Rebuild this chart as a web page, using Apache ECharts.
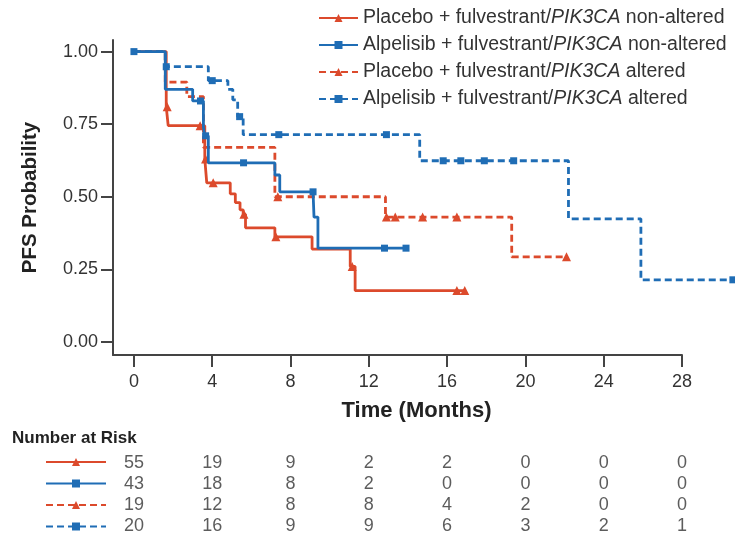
<!DOCTYPE html>
<html><head><meta charset="utf-8">
<script src="https://cdn.jsdelivr.net/npm/echarts@6/dist/echarts.min.js"></script>
<style>html,body{margin:0;padding:0;background:#fff}#c{width:735px;height:536px}</style>
</head><body><div id="c"></div>
<script>
// ---- data ----
const seriesNames = [
  'Placebo + fulvestrant/PIK3CA non-altered',
  'Alpelisib + fulvestrant/PIK3CA non-altered',
  'Placebo + fulvestrant/PIK3CA altered',
  'Alpelisib + fulvestrant/PIK3CA altered'
];
// Kaplan-Meier steps [month, probability]
const placeboNonAltEvents = [[0,1.0],[1.65,0.81],[1.75,0.745],[3.62,0.63],[3.72,0.548],[4.92,0.51],[5.18,0.48],[5.42,0.455],[5.58,0.44],[5.7,0.393],[7.2,0.362],[9.1,0.32],[11.05,0.26],[11.3,0.177]];
const placeboNonAltCensor = [[1.7,0.81],[3.38,0.745],[3.66,0.63],[4.05,0.548],[5.62,0.44],[7.25,0.362],[11.15,0.26],[16.5,0.177],[16.9,0.177]];
const alpNonAltEvents = [[0,1.0],[1.6,0.87],[3.0,0.83],[3.55,0.74],[3.62,0.71],[3.8,0.617],[7.2,0.575],[7.45,0.517],[9.2,0.43],[9.4,0.323]];
const alpNonAltCensor = [[0,1.0],[3.4,0.83],[3.66,0.71],[5.6,0.617],[9.15,0.517],[12.8,0.323],[13.9,0.323]];
const placeboAltEvents = [[0,1.0],[1.6,0.895],[2.7,0.845],[3.55,0.67],[7.2,0.50],[12.85,0.43],[19.3,0.293]];
const placeboAltCensor = [[7.35,0.50],[12.9,0.43],[13.35,0.43],[14.75,0.43],[16.5,0.43],[22.1,0.293]];
const alpAltEvents = [[0,1.0],[1.6,0.948],[3.8,0.9],[4.8,0.87],[5.05,0.834],[5.3,0.776],[5.58,0.714],[14.6,0.624],[22.2,0.424],[25.9,0.214]];
const alpAltCensor = [[1.65,0.948],[4.0,0.9],[5.4,0.776],[7.4,0.714],[12.9,0.714],[15.8,0.624],[16.7,0.624],[17.9,0.624],[19.4,0.624],[30.6,0.214]];

const xTicks = [0,4,8,12,16,20,24,28];
const yTicks = [0,0.25,0.5,0.75,1];
const riskTimes = [0,4,8,12,16,20,24,28];
const riskPlaceboNonAlt = [55,19,9,2,2,0,0,0];
const riskAlpNonAlt = [43,18,8,2,0,0,0,0];
const riskPlaceboAlt = [19,12,8,8,4,2,0,0];
const riskAlpAlt = [20,16,9,9,6,3,2,1];

// ---- build ----
const RED = '#dc4a2c', BLUE = '#1f6db5', AX = '#444';
const FONT = 'Liberation Sans';
function km(events, censors) {
  const pts = events.map(p => ({value: p, symbol: 'none'}))
    .concat(censors.map(p => ({value: p})));
  pts.sort((a, b) => a.value[0] - b.value[0]);
  return pts;
}
const styles = [
  {color: RED, type: 'solid', sym: 'triangle', ev: placeboNonAltEvents, ce: placeboNonAltCensor, risk: riskPlaceboNonAlt},
  {color: BLUE, type: 'solid', sym: 'rect', ev: alpNonAltEvents, ce: alpNonAltCensor, risk: riskAlpNonAlt},
  {color: RED, type: [7,4], sym: 'triangle', ev: placeboAltEvents, ce: placeboAltCensor, risk: riskPlaceboAlt},
  {color: BLUE, type: [7,4], sym: 'rect', ev: alpAltEvents, ce: alpAltCensor, risk: riskAlpAlt}
];
const XMIN = -1.07, XMAX = 28, XMAX_DATA = 30.7;
const GL = 113, GW = 569, GT = 40, GH = 315;
const GW_DATA = GW * (XMAX_DATA - XMIN) / (XMAX - XMIN);
const series = [];
styles.forEach((s, i) => {
  series.push({
    name: seriesNames[i], type: 'line', step: 'end',
    xAxisIndex: 2, yAxisIndex: 2, z: 3 + (i === 1 ? 1 : 0),
    symbol: s.sym, symbolSize: s.sym === 'rect' ? 7 : 9,
    lineStyle: {color: s.color, width: 2.8, type: s.type},
    itemStyle: {color: s.color},
    data: km(s.ev, s.ce), animation: false
  });
});
styles.forEach((s, i) => {
  series.push({
    name: 'risk' + i, type: 'scatter', xAxisIndex: 1, yAxisIndex: 1,
    symbolSize: 0, silent: true, animation: false,
    label: {show: true, position: 'inside', formatter: p => p.value[2],
      fontFamily: FONT, fontSize: 18, color: '#333'},
    data: riskTimes.map((t, k) => [t, i, s.risk[k]])
  });
});

const chart = echarts.init(document.getElementById('c'), null, {renderer: 'canvas'});
chart.setOption({
  animation: false,
  textStyle: {fontFamily: FONT},
  grid: [
    {left: GL, width: GW, top: GT, height: GH},
    {left: GL, width: GW, top: 453, height: 86},
    {left: GL, width: GW_DATA, top: GT, height: GH}
  ],
  legend: [
    {data: seriesNames, orient: 'vertical', left: 313, top: 3, itemWidth: 39, itemHeight: 10, itemGap: 7,
     selectedMode: false,
     formatter: n => n.replace('PIK3CA', '{i|PIK3CA}'),
     textStyle: {fontFamily: FONT, fontSize: 19.5, color: '#333', lineHeight: 19,
       rich: {i: {fontStyle: 'italic', fontFamily: FONT, fontSize: 19.5, color: '#333'}}}},
    {data: seriesNames, orient: 'vertical', left: 45, top: 458, padding: 0, itemWidth: 60, itemHeight: 10, itemGap: 13.5,
     selectedMode: false, formatter: () => '', textStyle: {fontSize: 8, lineHeight: 8}}
  ],
  xAxis: [
    {type: 'value', gridIndex: 0, min: XMIN, max: XMAX,
     axisLine: {show: true, onZero: false, lineStyle: {color: AX, width: 2}},
     axisTick: {show: true, customValues: xTicks, length: 12, lineStyle: {color: AX, width: 2}},
     axisLabel: {customValues: xTicks, fontSize: 18, color: '#333', margin: 18},
     splitLine: {show: false},
     name: 'Time (Months)', nameLocation: 'middle', nameGap: 45, nameMoveOverlap: false,
     nameTextStyle: {fontSize: 22, fontWeight: 'bold', color: '#222', padding: [0, 0, 0, 38]}},
    {type: 'value', gridIndex: 1, min: XMIN, max: XMAX, show: false},
    {type: 'value', gridIndex: 2, min: XMIN, max: XMAX_DATA, show: false}
  ],
  yAxis: [
    {type: 'value', gridIndex: 0, min: -0.045, max: 1.04,
     axisLine: {show: true, onZero: false, lineStyle: {color: AX, width: 2}},
     axisTick: {show: true, customValues: yTicks, length: 12, lineStyle: {color: AX, width: 2}},
     axisLabel: {customValues: yTicks, formatter: v => v.toFixed(2), fontSize: 18, color: '#333', margin: 15},
     splitLine: {show: false},
     name: 'PFS Probability', nameLocation: 'middle', nameRotate: 90, nameGap: 72, nameMoveOverlap: false,
     nameTextStyle: {fontSize: 20.5, fontWeight: 'bold', color: '#222'}},
    {type: 'category', gridIndex: 1, data: [0,1,2,3], inverse: true, show: false},
    {type: 'value', gridIndex: 2, min: -0.045, max: 1.04, show: false}
  ],
  graphic: [
    {type: 'text', left: 12, top: 430, style: {text: 'Number at Risk', font: 'bold 17px "Liberation Sans"', fill: '#222'}}
  ],
  series: series
});
</script></body></html>
